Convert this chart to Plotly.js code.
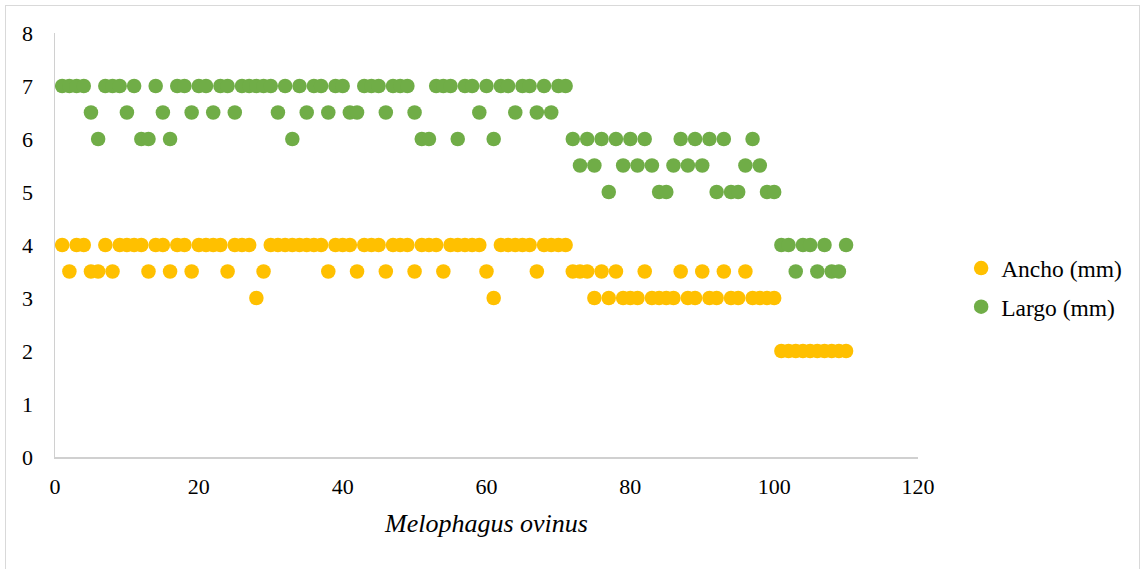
<!DOCTYPE html>
<html>
<head>
<meta charset="utf-8">
<script src="https://cdn.plot.ly/plotly-3.0.1.min.js"></script>
<style>
html,body{margin:0;padding:0;background:#fff;overflow:hidden;}
#frame{position:absolute;left:5px;top:5px;width:1135px;height:620px;border:1px solid #d9d9d9;box-sizing:border-box;pointer-events:none;z-index:5;}
#chart{position:absolute;left:0;top:0;width:1144px;height:569px;}
</style>
</head>
<body>
<div id="chart"></div>
<div id="frame"></div>
<script>
const specimen = [1,2,3,4,5,6,7,8,9,10,11,12,13,14,15,16,17,18,19,20,
21,22,23,24,25,26,27,28,29,30,31,32,33,34,35,36,37,38,39,40,
41,42,43,44,45,46,47,48,49,50,51,52,53,54,55,56,57,58,59,60,
61,62,63,64,65,66,67,68,69,70,71,72,73,74,75,76,77,78,79,80,
81,82,83,84,85,86,87,88,89,90,91,92,93,94,95,96,97,98,99,100,
101,102,103,104,105,106,107,108,109,110];

const ancho = [4,3.5,4,4,3.5,3.5,4,3.5,4,4,
4,4,3.5,4,4,3.5,4,4,3.5,4,
4,4,4,3.5,4,4,4,3,3.5,4,
4,4,4,4,4,4,4,3.5,4,4,
4,3.5,4,4,4,3.5,4,4,4,3.5,
4,4,4,3.5,4,4,4,4,4,3.5,
3,4,4,4,4,4,3.5,4,4,4,
4,3.5,3.5,3.5,3,3.5,3,3.5,3,3,
3,3.5,3,3,3,3,3.5,3,3,3.5,
3,3,3.5,3,3,3.5,3,3,3,3,
2,2,2,2,2,2,2,2,2,2];

const largo = [7,7,7,7,6.5,6,7,7,7,6.5,
7,6,6,7,6.5,6,7,7,6.5,7,
7,6.5,7,7,6.5,7,7,7,7,7,
6.5,7,6,7,6.5,7,7,6.5,7,7,
6.5,6.5,7,7,7,6.5,7,7,7,6.5,
6,6,7,7,7,6,7,7,6.5,7,
6,7,7,6.5,7,7,6.5,7,6.5,7,
7,6,5.5,6,5.5,6,5,6,5.5,6,
5.5,6,5.5,5,5,5.5,6,5.5,6,5.5,
6,5,6,5,5,5.5,6,5.5,5,5,
4,4,3.5,4,4,3.5,4,3.5,3.5,4];

const seriesNames = ['Ancho (mm)', 'Largo (mm)'];
const xTitle = 'Melophagus ovinus';

const font = 'Liberation Serif, Times New Roman, serif';

const traces = [
  {x: specimen, y: ancho, name: seriesNames[0], legendgroup: 'a', type: 'scatter', mode: 'markers',
   marker: {color: '#FFC000', size: 14.5}},
  {x: specimen, y: largo, name: seriesNames[1], legendgroup: 'b', type: 'scatter', mode: 'markers',
   marker: {color: '#70AD47', size: 14.5}}
];

const layout = {
  width: 1144, height: 569,
  margin: {l: 55, r: 226, t: 33, b: 112},
  paper_bgcolor: '#fff', plot_bgcolor: '#fff',
  font: {family: font, size: 22, color: '#000'},
  showlegend: true,
  legend: {x: 1.050, xanchor: 'left', y: 0.399, yanchor: 'middle',
           font: {family: font, size: 23.5, color: '#000'}, itemwidth: 30, tracegroupgap: 5},
  xaxis: {range: [0, 120], dtick: 20, tick0: 0, showgrid: false, zeroline: false,
          showline: true, linecolor: '#d0d0d0', linewidth: 1.5, ticks: '',
          ticklabelstandoff: 9,
          tickfont: {family: font, size: 22},
          title: {text: '<i>' + xTitle + '</i>', font: {family: font, size: 26}, standoff: 16}},
  yaxis: {range: [0, 8], dtick: 1, tick0: 0, showgrid: false, zeroline: false,
          showline: true, linecolor: '#d0d0d0', linewidth: 1.5, ticks: '',
          ticklabelstandoff: 16,
          tickfont: {family: font, size: 22}}
};

Plotly.newPlot('chart', traces, layout, {displayModeBar: false, staticPlot: true});
</script>
</body>
</html>
